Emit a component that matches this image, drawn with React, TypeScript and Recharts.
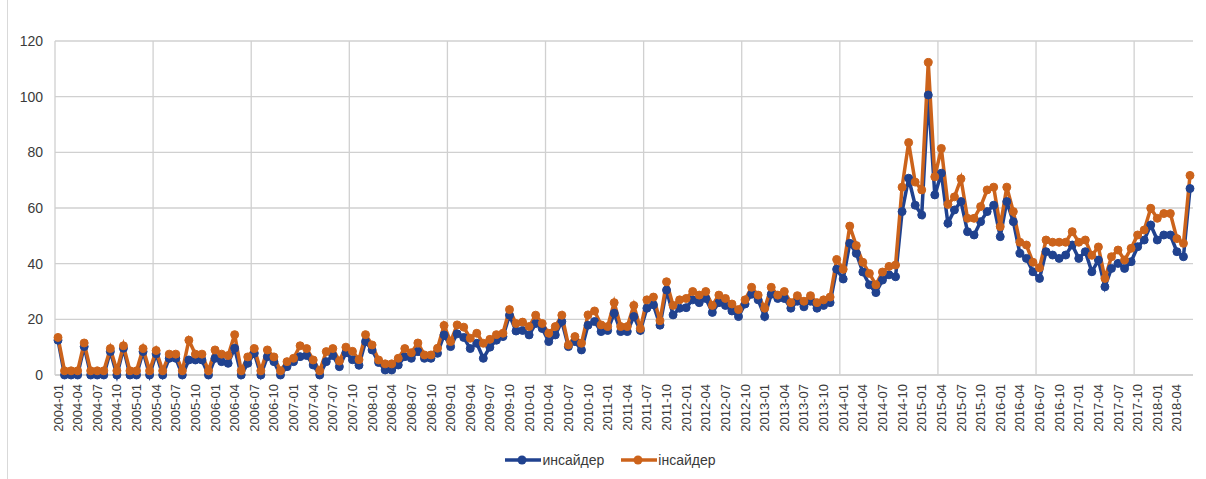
import { LineChart, Line, XAxis, YAxis, CartesianGrid, Legend } from 'recharts'

// monthly categories, 2004-01 .. 2018-06
const START_YEAR = 2004
const MONTH_COUNT = 174
const months = Array.from({ length: MONTH_COUNT }, (_, i) => {
  const year = START_YEAR + Math.floor(i / 12)
  const month = (i % 12) + 1
  return `${year}-${String(month).padStart(2, '0')}`
})

// "инсайдер" (russian spelling)
const insaiderRu = [
  12.5, 0, 0, 0, 10.2, 0, 0, 0, 8.4, 0, 9.6, 0, 0, 8.4, 0, 7.6, 0, 6, 6, 0,
  5.4, 5.4, 5.4, 0, 6, 4.8, 4.2, 9.6, 0, 4.2, 7.8, 0, 6.6, 4.8, 0, 3, 4.8, 6.6, 7, 3.6,
  0, 4.8, 7, 3, 8, 5.5, 3.5, 12, 9, 4.5, 1.8, 1.8, 3.6, 6.6, 6, 8.4, 6, 6, 7.8, 14.4,
  10.2, 14.8, 13.5, 9.5, 11.4, 6, 10, 12.5, 13.8, 21.5, 15.8, 16, 14.4, 18.5, 16.7, 12, 14.4, 19.2, 10.2, 12,
  9, 17.9, 19.2, 15.6, 16, 22.2, 15.6, 15.6, 21, 16, 24, 25.2, 17.9, 30.5, 21.6, 24, 24.2, 27, 26, 27.5,
  22.5, 26, 25, 23, 21, 25.5, 29, 27, 21, 29, 27.5, 27.5, 24, 26.5, 24.5, 26.5, 24, 25, 26, 38,
  34.5, 47.3, 43.7, 37, 32.4, 29.6, 34.1, 36, 35.3, 58.7, 70.7, 61, 57.5, 100.6, 64.7, 72.5, 54.5, 59.3, 62.3, 51.5,
  50.3, 55.1, 58.7, 61, 49.7, 62.3, 55.1, 43.7, 41.9, 37.1, 34.7, 44.3, 43.1, 41.9, 43.1, 46.7, 41.9, 44.3, 37.1, 41.3,
  31.7, 38.3, 40.1, 38.3, 40.7, 46.1, 48.5, 53.9, 48.5, 50.3, 50.3, 44.3, 42.5, 67,
]

// "інсайдер" (ukrainian spelling)
const insaiderUa = [
  13.5, 1.5, 1.5, 1.5, 11.5, 1.5, 1.5, 1.5, 9.5, 1.5, 10.5, 1.5, 1.5, 9.5, 1.5, 8.8, 1.5, 7.5, 7.5, 1.5,
  12.5, 7.5, 7.5, 1.5, 9, 7.5, 7, 14.5, 1.5, 6.5, 9.5, 1.5, 9, 6.5, 1.5, 4.8, 6, 10.5, 9.5, 5.4,
  1.5, 8.4, 9.5, 5, 10, 8.5, 5.5, 14.5, 10.8, 5.4, 4, 4, 6, 9.5, 8, 11.5, 7.2, 7.2, 9.6, 17.8,
  12, 18, 17.2, 13.2, 15, 11.4, 12.8, 14.5, 15, 23.5, 18.5, 19, 17.4, 21.5, 18.5, 15, 17.4, 21.5, 10.8, 13.8,
  11.4, 21.6, 23, 18, 17.4, 26, 17.4, 17.4, 25, 16.7, 27, 28, 19.5, 33.5, 25, 27, 27.5, 30, 28.7, 30,
  25, 28.7, 27.5, 25.5, 23.5, 27, 31.5, 28.7, 24, 31.5, 28.7, 30, 26, 28.5, 26.5, 28.5, 26, 27, 28, 41.5,
  38, 53.5, 46.5, 40.5, 36.5, 32.4, 37, 39, 39.5, 67.5, 83.5, 69.3, 66.5, 112.3, 71.2, 81.4, 61.3, 64, 70.5, 56.3,
  56.3, 60.5, 66.5, 67.5, 53.3, 67.5, 58.7, 47.7, 46.7, 40.5, 38.5, 48.5, 47.7, 47.7, 47.7, 51.5, 47.7, 48.5, 43, 46,
  34.7, 42.5, 44.9, 41.3, 45.5, 50.3, 52.1, 59.9, 56.3, 58, 58, 49, 47.3, 71.7,
]

const yTicks = [0, 20, 40, 60, 80, 100, 120]

const series = [
  { key: 'ru', name: 'инсайдер', color: '#20428f' },
  { key: 'ua', name: 'інсайдер', color: '#cc631b' },
]

const data = months.map((month, i) => ({ month, ru: insaiderRu[i], ua: insaiderUa[i] }))

const FONT = '"Liberation Sans", Arial, sans-serif'
const TEXT = '#3a3a3a'
const GRID = '#d0d0d0'

function MonthTick({ x, y, payload }: any) {
  return (
    <text
      x={x}
      y={y}
      transform={`rotate(-90, ${x}, ${y})`}
      textAnchor="end"
      dx={-1}
      dy="0.35em"
      fontSize={13}
      fontFamily={FONT}
      fill={TEXT}
    >
      {payload.value}
    </text>
  )
}

function ValueTick({ x, y, payload }: any) {
  return (
    <text x={x - 4} y={y} textAnchor="end" dy="0.35em" fontSize={14} fontFamily={FONT} fill={TEXT}>
      {payload.value}
    </text>
  )
}

function LegendContent() {
  return (
    <div
      style={{
        display: 'flex',
        justifyContent: 'center',
        gap: 17,
        paddingTop: 7,
        paddingLeft: 18,
        fontFamily: FONT,
        fontSize: 14,
        color: TEXT,
      }}
    >
      {series.map((s) => (
        <span key={s.key} style={{ display: 'flex', alignItems: 'center' }}>
          <svg width={36} height={12} style={{ marginRight: 1 }}>
            <line x1={0} y1={6} x2={36} y2={6} stroke={s.color} strokeWidth={3.5} />
            <circle cx={17} cy={6} r={4.5} fill={s.color} />
          </svg>
          {s.name}
        </span>
      ))}
    </div>
  )
}

export default function App() {
  return (
    <div style={{ width: 1206, height: 479, position: 'relative', background: '#fff' }}>
      <style>{'body{margin:0}'}</style>
      <div style={{ position: 'absolute', left: 7, top: 0, width: 1, height: 479, background: '#d9d9d9' }} />
      <LineChart width={1206} height={479} data={data} margin={{ top: 41, right: 13, bottom: 10, left: 10 }}>
        <CartesianGrid
          stroke={GRID}
          strokeWidth={1.3}
          verticalCoordinatesGenerator={({ offset }: any) => {
            const band = offset.width / MONTH_COUNT
            const out: number[] = []
            for (let k = 0; k < MONTH_COUNT; k += 15) out.push(offset.left + k * band)
            return out
          }}
        />
        <XAxis
          dataKey="month"
          interval={2}
          tick={<MonthTick />}
          tickLine={false}
          axisLine={{ stroke: GRID, strokeWidth: 1.3 }}
          height={70}
          padding={{ left: 3, right: 3 }}
        />
        <YAxis
          domain={[0, 120]}
          ticks={yTicks}
          width={45}
          tickLine={false}
          axisLine={false}
          tick={<ValueTick />}
        />
        <Legend verticalAlign="bottom" height={24} content={<LegendContent />} />
        {series.map((s) => (
          <Line
            key={s.key}
            type="linear"
            dataKey={s.key}
            name={s.name}
            stroke={s.color}
            strokeWidth={3.5}
            dot={{ r: 4, fill: s.color, stroke: s.color, strokeWidth: 1 }}
            isAnimationActive={false}
          />
        ))}
      </LineChart>
    </div>
  )
}
